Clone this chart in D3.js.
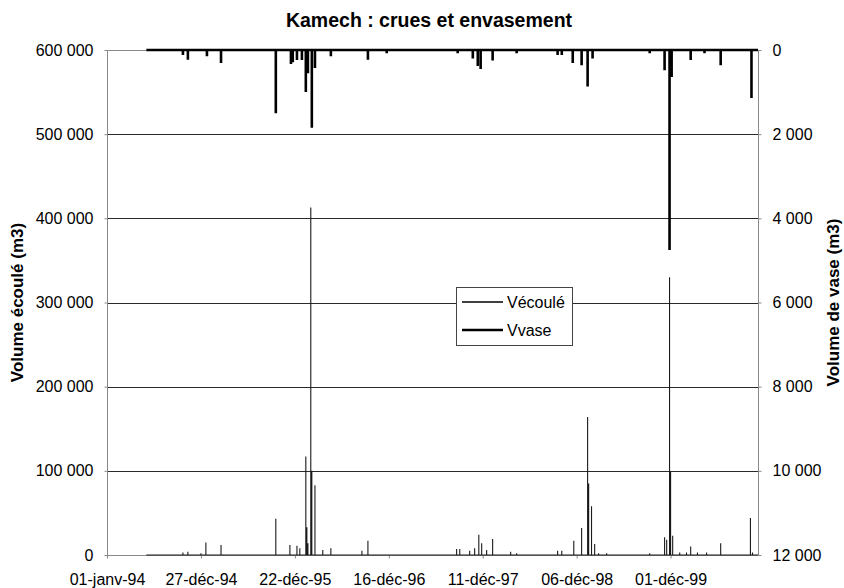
<!DOCTYPE html>
<html>
<head>
<meta charset="utf-8">
<script src="https://cdn.jsdelivr.net/npm/d3@7"></script>
<style>
	body { margin: 0; background: #fff; }
	text { font-family: "Liberation Sans", Arial, sans-serif; fill: #000; }
</style>
</head>
<body>
<div id="chart"></div>
<script>
// ********** KAMECH : CRUES ET ENVASEMENT **********

// Chart data
const title = 'Kamech : crues et envasement';
const leftTitle = 'Volume écoulé (m3)';
const rightTitle = 'Volume de vase (m3)';
const seriesNames = ['Vécoulé', 'Vvase'];

// Time axis: ticks every 360 days
const xDomain = ['1994-01-01', '2000-10-31'];
const dataRange = ['1994-06-01', '2000-10-31'];
const xTickDates = ['1994-01-01', '1994-12-27', '1995-12-22', '1996-12-16', '1997-12-11', '1998-12-06', '1999-12-01'];
const xTickLabels = ['01-janv-94', '27-déc-94', '22-déc-95', '16-déc-96', '11-déc-97', '06-déc-98', '01-déc-99'];

const leftTicks = [0, 100000, 200000, 300000, 400000, 500000, 600000];
const rightTicks = [0, 2000, 4000, 6000, 8000, 10000, 12000];

// Vécoulé (m3), flood events
const ecouleDates = ['1994-10-19', '1994-11-07', '1994-12-27', '1995-01-15', '1995-03-14', '1995-10-10',
	'1995-12-03', '1995-12-30', '1996-01-10', '1996-02-02', '1996-02-06', '1996-02-10', '1996-02-21',
	'1996-02-25', '1996-03-08', '1996-04-07', '1996-05-08', '1996-09-04', '1996-09-27', '1997-09-02',
	'1997-09-14', '1997-10-22', '1997-11-10', '1997-11-26', '1997-12-07', '1997-12-26', '1998-01-18',
	'1998-03-28', '1998-04-20', '1998-09-24', '1998-10-10', '1998-11-25', '1998-12-25', '1999-01-17',
	'1999-01-21', '1999-02-01', '1999-02-13', '1999-02-28', '1999-03-31', '1999-09-12', '1999-11-08',
	'1999-11-16', '1999-11-27', '1999-12-01', '1999-12-09', '2000-01-05', '2000-01-31', '2000-02-16',
	'2000-03-13', '2000-04-17', '2000-06-10', '2000-10-02', '2000-10-10'];
const ecouleValues = [3000, 4000, 2000, 15000, 12000, 43000,
	12000, 11000, 8000, 117000, 33000, 14000, 413000,
	100000, 83000, 6000, 8000, 5000, 17000, 7000,
	7000, 5000, 8000, 24000, 14000, 6000, 19000,
	4000, 2000, 5000, 5000, 17000, 32000, 164000,
	85000, 58000, 13000, 2000, 2000, 2000, 21000,
	18000, 330000, 99000, 23000, 3000, 3000, 10000,
	3000, 3000, 14000, 44000, 3000];

// Vvase (m3), silt deposits
const vaseDates = ['1994-10-19', '1994-11-07', '1995-01-19', '1995-03-14', '1995-10-10', '1995-12-07',
	'1995-12-14', '1995-12-30', '1996-01-18', '1996-02-02', '1996-02-10', '1996-02-25', '1996-03-08',
	'1996-05-08', '1996-09-27', '1996-12-08', '1997-09-06', '1997-11-03', '1997-11-22', '1997-12-03',
	'1998-01-18', '1998-04-20', '1998-09-24', '1998-10-10', '1998-11-21', '1998-12-25', '1999-01-17',
	'1999-02-05', '1999-09-12', '1999-11-08', '1999-11-27', '1999-12-05', '2000-02-16', '2000-04-09',
	'2000-06-10', '2000-10-06'];
const vaseValues = [120, 230, 150, 310, 1500, 330,
	290, 240, 240, 1000, 550, 1850, 430,
	150, 230, 80, 80, 200, 380, 450,
	250, 80, 120, 120, 310, 360, 870,
	200, 80, 480, 4750, 640, 240, 80,
	360, 1140];

// Layout
const width = 844;
const height = 588;
const plot = { left: 107, right: 758, top: 50, bottom: 555 };

const parse = d3.timeParse('%Y-%m-%d');

const svg = d3.select('#chart')
	.append('svg')
	.attr('width', width)
	.attr('height', height);

// Scales
const x = d3.scaleTime()
	.domain(xDomain.map(parse))
	.range([plot.left, plot.right]);

const yLeft = d3.scaleLinear()
	.domain([0, 600000])
	.range([plot.bottom, plot.top]);

// Right axis is reversed: 0 at the top
const yRight = d3.scaleLinear()
	.domain([0, 12000])
	.range([plot.top, plot.bottom]);

const fmt = d => d3.format(',')(d).replace(/,/g, ' ');

// Gridlines
svg.append('g')
	.selectAll('line')
	.data(leftTicks.slice(1, -1))
	.enter()
	.append('line')
	.attr('x1', plot.left)
	.attr('x2', plot.right)
	.attr('y1', d => Math.round(yLeft(d)) + 0.5)
	.attr('y2', d => Math.round(yLeft(d)) + 0.5)
	.attr('stroke', '#2a2a2a')
	.attr('stroke-width', 1);

// Plot border
svg.append('rect')
	.attr('x', plot.left + 0.5)
	.attr('y', plot.top + 0.5)
	.attr('width', plot.right - plot.left)
	.attr('height', plot.bottom - plot.top)
	.attr('fill', 'none')
	.attr('stroke', '#8a8a8a');

// Axes
const styleAxis = (g) => {
	g.select('.domain').remove();
	g.selectAll('.tick line').attr('stroke', '#8a8a8a');
	g.selectAll('.tick text')
		.attr('font-size', '16px')
		.attr('font-family', '"Liberation Sans", Arial, sans-serif');
};

svg.append('g')
	.attr('transform', `translate(0, ${plot.bottom + 0.5})`)
	.call(d3.axisBottom(x)
		.tickValues(xTickDates.map(parse))
		.tickFormat((d, i) => xTickLabels[i])
		.tickSize(3)
		.tickPadding(15))
	.call(styleAxis);

svg.append('g')
	.attr('transform', `translate(${plot.left + 0.5}, 0)`)
	.call(d3.axisLeft(yLeft)
		.tickValues(leftTicks)
		.tickFormat(fmt)
		.tickSize(3)
		.tickPadding(11))
	.call(styleAxis);

svg.append('g')
	.attr('transform', `translate(${plot.right + 0.5}, 0)`)
	.call(d3.axisRight(yRight)
		.tickValues(rightTicks)
		.tickFormat(fmt)
		.tickSize(3)
		.tickPadding(11))
	.call(styleAxis);

// Series as daily lines: baseline with a spike at each event
const buildPoints = (dates, values) => {
	const pts = [[parse(dataRange[0]), 0]];
	dates.forEach((d, i) => {
		const t = parse(d);
		pts.push([t, 0], [t, values[i]], [t, 0]);
	});
	pts.push([parse(dataRange[1]), 0]);
	return pts;
};

const ecouleLine = d3.line()
	.x(d => x(d[0]))
	.y(d => yLeft(d[1]));

const vaseLine = d3.line()
	.x(d => x(d[0]))
	.y(d => yRight(d[1]));

svg.append('path')
	.datum(buildPoints(ecouleDates, ecouleValues))
	.attr('d', ecouleLine)
	.attr('fill', 'none')
	.attr('stroke', '#1a1a1a')
	.attr('stroke-width', 1.1);

svg.append('path')
	.datum(buildPoints(vaseDates, vaseValues))
	.attr('d', vaseLine)
	.attr('fill', 'none')
	.attr('stroke', '#000')
	.attr('stroke-width', 2.6);

// Legend
const legend = svg.append('g')
	.attr('transform', 'translate(456, 287)');

legend.append('rect')
	.attr('x', 0.5)
	.attr('y', 0.5)
	.attr('width', 116)
	.attr('height', 58)
	.attr('fill', '#fff')
	.attr('stroke', '#444');

legend.selectAll('line.legend')
	.data(seriesNames)
	.enter()
	.append('line')
	.attr('class', 'legend')
	.attr('x1', 6)
	.attr('x2', 47)
	.attr('y1', (d, i) => 15 + i * 28)
	.attr('y2', (d, i) => 15 + i * 28)
	.attr('stroke', '#000')
	.attr('stroke-width', (d, i) => i === 0 ? 1.3 : 2.4);

legend.selectAll('text.legend-text')
	.data(seriesNames)
	.enter()
	.append('text')
	.attr('class', 'legend-text')
	.attr('x', 51)
	.attr('y', (d, i) => 15 + i * 28)
	.attr('dy', '0.35em')
	.attr('font-size', '16px')
	.text(d => d);

// Titles
svg.append('text')
	.attr('x', 429)
	.attr('y', 27)
	.attr('text-anchor', 'middle')
	.attr('font-size', '19.5px')
	.attr('font-weight', 'bold')
	.text(title);

svg.append('text')
	.attr('transform', `translate(23, ${(plot.top + plot.bottom) / 2}) rotate(-90)`)
	.attr('text-anchor', 'middle')
	.attr('font-size', '17px')
	.attr('font-weight', 'bold')
	.text(leftTitle);

svg.append('text')
	.attr('transform', `translate(839, ${(plot.top + plot.bottom) / 2}) rotate(-90)`)
	.attr('text-anchor', 'middle')
	.attr('font-size', '17px')
	.attr('font-weight', 'bold')
	.text(rightTitle);
</script>
</body>
</html>
